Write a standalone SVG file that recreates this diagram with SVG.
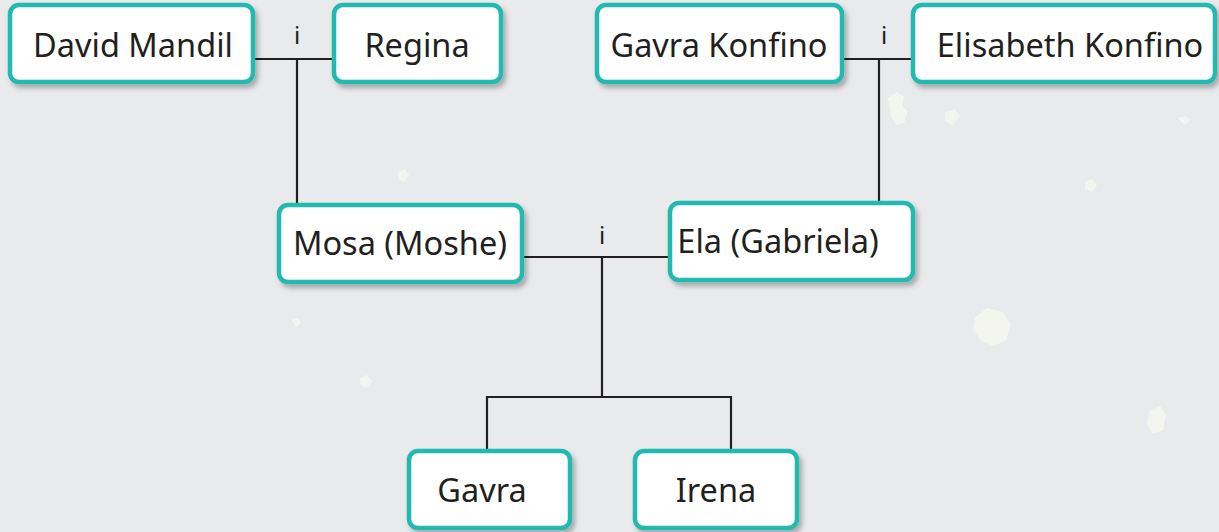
<svg xmlns="http://www.w3.org/2000/svg" width="1219" height="532" viewBox="0 0 1219 532">
<defs>
<filter id="sh" x="-10%" y="-10%" width="125%" height="135%">
<feDropShadow dx="3" dy="4" stdDeviation="2.5" flood-color="#000" flood-opacity="0.28"/>
</filter>
<style>
.box{fill:#fff;stroke:#22b9b1;stroke-width:4.5;filter:url(#sh)}
.t{font-family:"Noto Sans","Open Sans",sans-serif;font-size:32.5px;fill:#231f20;text-anchor:middle}
.i{font-family:"Noto Sans","Open Sans",sans-serif;font-size:24px;fill:#231f20;text-anchor:middle}
.c{fill:none;stroke:#231f20;stroke-width:2.2}
.bl{fill:#f8f7f1;opacity:0.8}
</style>
</defs>
<rect width="1219" height="532" fill="#e9eaec"/>
<g id="background">
<path class="bl" d="M888 98 l9 -6 l7 5 l-2 9 l6 5 l-4 12 l-8 2 l-5 -9 z"/>
<path class="bl" d="M945 112 l10 -3 l5 7 l-7 9 l-8 -4 z"/>
<path class="bl" d="M975 318 l12 -10 l15 4 l9 12 l-5 16 l-12 6 l-13 -5 l-8 -12 z"/>
<path class="bl" d="M1150 410 l10 -4 l6 9 l-3 15 l-10 4 l-6 -10 z"/>
<path class="bl" d="M398 172 l7 -3 l4 6 l-5 7 l-6 -3 z"/>
<path class="bl" d="M360 378 l7 -3 l5 7 l-6 6 l-6 -4 z"/>
<path class="bl" d="M1085 182 l7 -3 l5 6 l-5 7 l-7 -3 z"/>
<path class="bl" d="M1178 118 l8 -2 l4 5 l-6 4 z"/>
<path class="bl" d="M292 320 l6 -2 l3 5 l-5 4 z"/>
</g>
<g id="connectors">
<path class="c" d="M253 59 H334 M297 59 V205"/>
<path class="c" d="M842 59 H913 M879 59 V203"/>
<path class="c" d="M522 257 H670 M602 257 V397 M487 451 V397 H731 V451"/>
<text class="i" x="297" y="44">i</text>
<text class="i" x="884" y="44">i</text>
<text class="i" x="602" y="244">i</text>
</g>
<g id="david"><rect class="box" x="10" y="5" width="243" height="77" rx="9"/><text class="t" x="133" y="57">David Mandil</text></g>
<g id="regina"><rect class="box" x="334" y="5" width="167" height="77" rx="9"/><text class="t" x="417" y="57">Regina</text></g>
<g id="gavrak"><rect class="box" x="597" y="5" width="245" height="77" rx="9"/><text class="t" x="719" y="57">Gavra Konfino</text></g>
<g id="elisabeth"><rect class="box" x="913" y="5" width="302" height="77" rx="9"/><text class="t" x="1070" y="57">Elisabeth Konfino</text></g>
<g id="mosa"><rect class="box" x="279" y="205" width="243" height="77" rx="9"/><text class="t" x="400" y="255">Mosa (Moshe)</text></g>
<g id="ela"><rect class="box" x="670" y="203" width="243" height="77" rx="9"/><text class="t" x="778" y="253">Ela (Gabriela)</text></g>
<g id="gavra"><rect class="box" x="409" y="451" width="161" height="77" rx="9"/><text class="t" x="482" y="502">Gavra</text></g>
<g id="irena"><rect class="box" x="635" y="451" width="162" height="77" rx="9"/><text class="t" x="716" y="502">Irena</text></g>
</svg>
